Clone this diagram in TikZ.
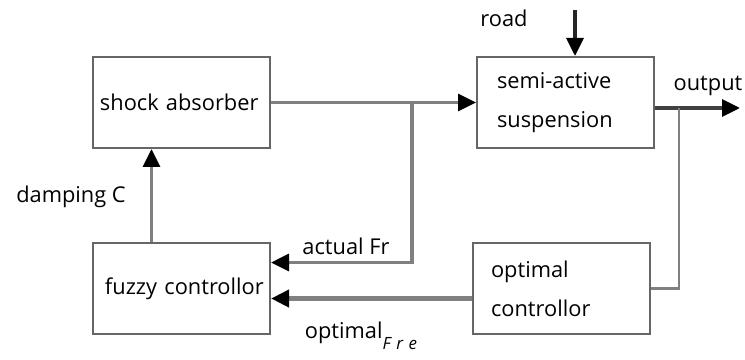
\documentclass[tikz,border=0pt]{standalone}
\usepackage{fontspec}
\setmainfont{Open Sans}
\usepackage{tikz}
\usetikzlibrary{positioning, arrows.meta, calc}

\begin{document}
\begin{tikzpicture}[x=0.025cm, y=-0.025cm,
        block/.style={draw=black!60, line width=1.4pt, minimum width=4.425cm, minimum height=2.275cm,
            inner xsep=0.1cm, text width=4.225cm, align=left, font=\fontsize{15.5}{28}\selectfont},
        link/.style={draw=black!50, line width=2.6pt},
        tip/.style={-{Triangle[length=0.45cm, width=0.42cm, color=black]}},
        lbl/.style={font=\fontsize{15.5}{18}\selectfont}]
        \useasboundingbox (0,0) rectangle (745,360);
        \node (shock) [block] at (181.5,102.5) {\hspace*{0.075cm}shock absorber};
        \node (susp) [block, right=5.125cm of shock] {\hspace*{0.4cm}semi-active\\\hspace*{0.4cm}suspension};
        \node (fuzzy) [block, below=2.325cm of shock] {\hspace*{0.2cm}fuzzy controllor};
        \node (optimal) [block, right=5.025cm of fuzzy] {\hspace*{0.35cm}optimal\\\hspace*{0.35cm}controllor};
        \coordinate (jA) at (412,102.5);
        \coordinate (jB) at (679,108);
        \coordinate (inA) at ($(fuzzy.east)+(0,-26)$);
        \coordinate (inB) at ($(fuzzy.east)+(0,10)$);
        \coordinate (up) at ($(fuzzy.north)+(-30,0)$);
        \coordinate (road) at (575,10);
        \coordinate (out) at (740,108);
        \draw [link, tip] (shock) -- (susp);
        \draw [link, tip] (jA) |- (inA);
        \draw [link, tip, line width=3.4pt] (optimal.west |- inB) -- (inB);
        \draw [link, tip] (up) -- (shock.south -| up);
        \draw [link, draw=black!85, tip] (road) -- (susp.north -| road);
        \draw [link, draw=black!75, tip] (susp.east |- out) -- (out);
        \draw [link, line width=1.8pt] (jB) |- (optimal.east);
        \node (roadlbl) [lbl] at (504,18) {road};
        \node (outlbl) [lbl] at (708,86) {output};
        \node (damplbl) [lbl] at (71,197) {damping C};
        \node (actlbl) [lbl] at (346,246) {actual Fr};
        \node (optlbl) [lbl, anchor=west] at (300,336) {optimal\raisebox{-0.9ex}{\fontsize{12}{14}\selectfont\itshape F\,\,r\,\,e}};
    \end{tikzpicture}
\end{document}
